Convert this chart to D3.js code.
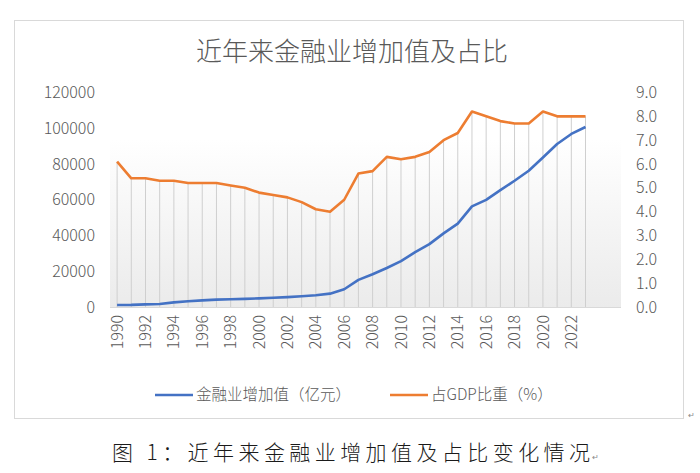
<!DOCTYPE html>
<html>
  <head>
    <meta charset="utf-8">
    <script src="https://cdnjs.cloudflare.com/ajax/libs/d3/7.8.5/d3.min.js"></script>
    <style type="text/css">
      body {
        margin: 0;
        padding: 0;
        background: #fff;
      }
      text {
        font-family: "Noto Sans CJK SC", "Noto Sans", sans-serif;
      }
    </style>
  </head>
  <body>
    <div id="chart"></div>
    <script type="text/javascript">
    // data
    const years = d3.range(1990, 2024);
    const financeValue = [1150, 1190, 1470, 1700, 2580, 3190, 3730, 4150, 4350, 4530,
      4840, 5200, 5550, 6040, 6590, 7470, 9950, 15170, 18310, 21800,
      25680, 30680, 35190, 41190, 46670, 56300, 59960, 65400, 70610, 76250,
      83620, 91210, 96810, 100680];
    const gdpShare = [6.1, 5.4, 5.4, 5.3, 5.3, 5.2, 5.2, 5.2, 5.1, 5.0,
      4.8, 4.7, 4.6, 4.4, 4.1, 4.0, 4.5, 5.6, 5.7, 6.3,
      6.2, 6.3, 6.5, 7.0, 7.3, 8.2, 8.0, 7.8, 7.7, 7.7,
      8.2, 8.0, 8.0, 8.0];
    const leftTicks = [0, 20000, 40000, 60000, 80000, 100000, 120000];
    const rightTicks = [0, 1, 2, 3, 4, 5, 6, 7, 8, 9];
    const labelYears = d3.range(1990, 2023, 2);
    const chartTitle = '近年来金融业增加值及占比';
    const seriesNames = ['金融业增加值（亿元）', '占GDP比重（%）'];
    const caption = '图 1：近年来金融业增加值及占比变化情况';

    const svg = d3.select('#chart')
      .append('svg')
      .attr('width', 700)
      .attr('height', 473);

    const plot = {left: 110, right: 621, top: 92.5, bottom: 307};

    // x has room for two more empty categories after 2023
    const x = d3.scaleBand()
      .domain(d3.range(1990, 2026))
      .range([plot.left, plot.right]);
    const xc = d => x(d) + x.bandwidth() / 2;
    const yLeft = d3.scaleLinear().domain([0, 120000]).range([plot.bottom, plot.top]);
    const yRight = d3.scaleLinear().domain([0, 9]).range([plot.bottom, plot.top]);

    // chart frame
    svg.append('rect')
      .attr('x', 14.5)
      .attr('y', 20.5)
      .attr('width', 669)
      .attr('height', 398)
      .attr('fill', '#fff')
      .attr('stroke', '#d9d9d9');

    const grad = svg.append('defs').append('linearGradient')
      .attr('id', 'bg')
      .attr('x1', 0).attr('x2', 0).attr('y1', 0).attr('y2', 1);
    grad.append('stop').attr('offset', '0%').attr('stop-color', '#ffffff');
    grad.append('stop').attr('offset', '100%').attr('stop-color', '#ebebeb');

    svg.append('rect')
      .attr('x', plot.left)
      .attr('y', yLeft(100000) + 11)
      .attr('width', plot.right - plot.left)
      .attr('height', plot.bottom - yLeft(100000) - 11)
      .attr('fill', 'url(#bg)');

    svg.append('text')
      .attr('x', 352)
      .attr('y', 61)
      .attr('text-anchor', 'middle')
      .attr('font-size', 26)
      .attr('font-weight', 300)
      .attr('fill', '#595959')
      .text(chartTitle);

    // drop lines from the top line down to the axis
    svg.append('g')
      .selectAll('line')
      .data(years)
      .enter()
      .append('line')
      .attr('x1', xc)
      .attr('x2', xc)
      .attr('y1', (d, i) => Math.min(yRight(gdpShare[i]), yLeft(financeValue[i])))
      .attr('y2', plot.bottom)
      .attr('stroke', '#cfcfcf')
      .attr('stroke-width', 1);

    svg.append('line')
      .attr('x1', plot.left)
      .attr('x2', plot.right)
      .attr('y1', plot.bottom + 0.5)
      .attr('y2', plot.bottom + 0.5)
      .attr('stroke', '#d9d9d9');

    // left axis labels
    svg.append('g')
      .selectAll('text')
      .data(leftTicks)
      .enter()
      .append('text')
      .attr('x', 95)
      .attr('y', d => yLeft(d))
      .attr('dy', '0.35em')
      .attr('text-anchor', 'end')
      .attr('font-size', 16)
      .attr('font-weight', 300)
      .attr('fill', '#595959')
      .text(d => d);

    // right axis labels
    svg.append('g')
      .selectAll('text')
      .data(rightTicks)
      .enter()
      .append('text')
      .attr('x', 636)
      .attr('y', d => yRight(d))
      .attr('dy', '0.35em')
      .attr('font-size', 16)
      .attr('font-weight', 300)
      .attr('fill', '#595959')
      .text(d => d.toFixed(1));

    // x labels, rotated
    svg.append('g')
      .selectAll('text')
      .data(labelYears)
      .enter()
      .append('text')
      .attr('transform', d => `translate(${xc(d)},315) rotate(-90)`)
      .attr('dy', '0.35em')
      .attr('text-anchor', 'end')
      .attr('font-size', 16)
      .attr('font-weight', 300)
      .attr('fill', '#595959')
      .text(d => d);

    const lineLeft = d3.line()
      .x((d, i) => xc(years[i]))
      .y(d => yLeft(d));
    const lineRight = d3.line()
      .x((d, i) => xc(years[i]))
      .y(d => yRight(d));

    svg.append('path')
      .attr('d', lineLeft(financeValue))
      .attr('fill', 'none')
      .attr('stroke', '#4472c4')
      .attr('stroke-width', 2.6)
      .attr('stroke-linejoin', 'round');

    svg.append('path')
      .attr('d', lineRight(gdpShare))
      .attr('fill', 'none')
      .attr('stroke', '#ed7d31')
      .attr('stroke-width', 2.6)
      .attr('stroke-linejoin', 'round');

    // legend
    const legend = [
      {name: seriesNames[0], color: '#4472c4', x: 155},
      {name: seriesNames[1], color: '#ed7d31', x: 390}
    ];
    const lg = svg.append('g').selectAll('g')
      .data(legend)
      .enter()
      .append('g')
      .attr('transform', d => `translate(${d.x},395)`);
    lg.append('line')
      .attr('x1', 0)
      .attr('x2', 38)
      .attr('stroke', d => d.color)
      .attr('stroke-width', 2.6);
    lg.append('text')
      .attr('x', 41)
      .attr('dy', '0.35em')
      .attr('font-size', 15.5)
      .attr('font-weight', 300)
      .attr('fill', '#595959')
      .text(d => d.name);

    svg.append('text')
      .attr('x', 688)
      .attr('y', 418)
      .attr('font-size', 8)
      .attr('fill', '#888')
      .text('↵');

    // caption under the chart
    svg.append('text')
      .attr('x', 112)
      .attr('y', 460)
      .attr('font-size', 21)
      .attr('font-weight', 300)
      .attr('fill', '#1a1a1a')
      .attr('textLength', 478)
      .attr('lengthAdjust', 'spacing')
      .text(caption);
    svg.append('text')
      .attr('x', 592)
      .attr('y', 460)
      .attr('font-size', 8)
      .attr('fill', '#888')
      .text('↵');
    </script>
  </body>
</html>
